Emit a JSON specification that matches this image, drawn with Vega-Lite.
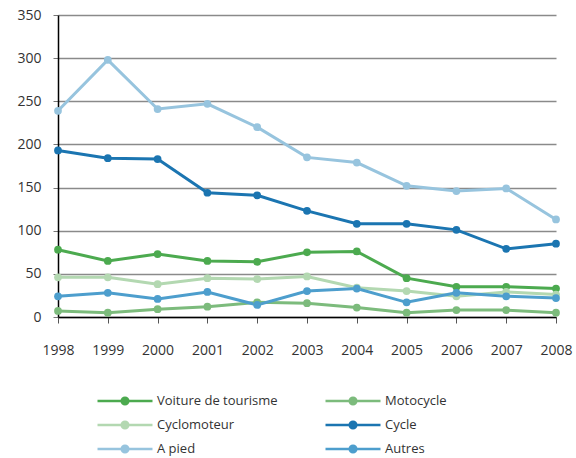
{
  "$schema": "https://vega.github.io/schema/vega-lite/v6.json",
  "autosize": {"type": "none"},
  "width": 498,
  "height": 302,
  "padding": {"left": 58, "top": 15, "right": 20, "bottom": 141},
  "background": "white",
  "config": {
    "font": "Open Sans",
    "view": {"stroke": null},
    "axis": {"labelFont": "Open Sans", "labelColor": "#333333", "labelFontSize": 14, "title": null}
  },
  "data": {
    "values": [
      {"year": "1998", "cat": "Voiture de tourisme", "v": 78},
      {"year": "1999", "cat": "Voiture de tourisme", "v": 65},
      {"year": "2000", "cat": "Voiture de tourisme", "v": 73},
      {"year": "2001", "cat": "Voiture de tourisme", "v": 65},
      {"year": "2002", "cat": "Voiture de tourisme", "v": 64},
      {"year": "2003", "cat": "Voiture de tourisme", "v": 75},
      {"year": "2004", "cat": "Voiture de tourisme", "v": 76},
      {"year": "2005", "cat": "Voiture de tourisme", "v": 45},
      {"year": "2006", "cat": "Voiture de tourisme", "v": 35},
      {"year": "2007", "cat": "Voiture de tourisme", "v": 35},
      {"year": "2008", "cat": "Voiture de tourisme", "v": 33},
      {"year": "1998", "cat": "Motocycle", "v": 7},
      {"year": "1999", "cat": "Motocycle", "v": 5},
      {"year": "2000", "cat": "Motocycle", "v": 9},
      {"year": "2001", "cat": "Motocycle", "v": 12},
      {"year": "2002", "cat": "Motocycle", "v": 17},
      {"year": "2003", "cat": "Motocycle", "v": 16},
      {"year": "2004", "cat": "Motocycle", "v": 11},
      {"year": "2005", "cat": "Motocycle", "v": 5},
      {"year": "2006", "cat": "Motocycle", "v": 8},
      {"year": "2007", "cat": "Motocycle", "v": 8},
      {"year": "2008", "cat": "Motocycle", "v": 5},
      {"year": "1998", "cat": "Cyclomoteur", "v": 46},
      {"year": "1999", "cat": "Cyclomoteur", "v": 46},
      {"year": "2000", "cat": "Cyclomoteur", "v": 38},
      {"year": "2001", "cat": "Cyclomoteur", "v": 45},
      {"year": "2002", "cat": "Cyclomoteur", "v": 44},
      {"year": "2003", "cat": "Cyclomoteur", "v": 47},
      {"year": "2004", "cat": "Cyclomoteur", "v": 34},
      {"year": "2005", "cat": "Cyclomoteur", "v": 30},
      {"year": "2006", "cat": "Cyclomoteur", "v": 24},
      {"year": "2007", "cat": "Cyclomoteur", "v": 29},
      {"year": "2008", "cat": "Cyclomoteur", "v": 26},
      {"year": "1998", "cat": "Cycle", "v": 193},
      {"year": "1999", "cat": "Cycle", "v": 184},
      {"year": "2000", "cat": "Cycle", "v": 183},
      {"year": "2001", "cat": "Cycle", "v": 144},
      {"year": "2002", "cat": "Cycle", "v": 141},
      {"year": "2003", "cat": "Cycle", "v": 123},
      {"year": "2004", "cat": "Cycle", "v": 108},
      {"year": "2005", "cat": "Cycle", "v": 108},
      {"year": "2006", "cat": "Cycle", "v": 101},
      {"year": "2007", "cat": "Cycle", "v": 79},
      {"year": "2008", "cat": "Cycle", "v": 85},
      {"year": "1998", "cat": "A pied", "v": 239},
      {"year": "1999", "cat": "A pied", "v": 298},
      {"year": "2000", "cat": "A pied", "v": 241},
      {"year": "2001", "cat": "A pied", "v": 247},
      {"year": "2002", "cat": "A pied", "v": 220},
      {"year": "2003", "cat": "A pied", "v": 185},
      {"year": "2004", "cat": "A pied", "v": 179},
      {"year": "2005", "cat": "A pied", "v": 152},
      {"year": "2006", "cat": "A pied", "v": 146},
      {"year": "2007", "cat": "A pied", "v": 149},
      {"year": "2008", "cat": "A pied", "v": 113},
      {"year": "1998", "cat": "Autres", "v": 24},
      {"year": "1999", "cat": "Autres", "v": 28},
      {"year": "2000", "cat": "Autres", "v": 21},
      {"year": "2001", "cat": "Autres", "v": 29},
      {"year": "2002", "cat": "Autres", "v": 14},
      {"year": "2003", "cat": "Autres", "v": 30},
      {"year": "2004", "cat": "Autres", "v": 33},
      {"year": "2005", "cat": "Autres", "v": 17},
      {"year": "2006", "cat": "Autres", "v": 28},
      {"year": "2007", "cat": "Autres", "v": 24},
      {"year": "2008", "cat": "Autres", "v": 22}
    ]
  },
  "mark": {"type": "line", "strokeWidth": 3, "point": {"filled": true, "size": 60}},
  "encoding": {
    "x": {
      "field": "year", "type": "ordinal",
      "scale": {"type": "point", "padding": 0},
      "axis": {"labelAngle": 0, "domainColor": "#000000", "domainWidth": 1.5, "tickColor": "#555555", "tickSize": 6, "labelPadding": 20, "grid": false}
    },
    "y": {
      "field": "v", "type": "quantitative",
      "scale": {"domain": [0, 350], "nice": false},
      "axis": {"values": [0, 50, 100, 150, 200, 250, 300, 350], "domainColor": "#000000", "domainWidth": 1.5, "tickColor": "#777777", "tickSize": 5, "labelPadding": 12, "grid": true, "gridColor": "#8a8a8a", "gridWidth": 1.5}
    },
    "color": {
      "field": "cat", "type": "nominal",
      "scale": {
        "domain": ["Voiture de tourisme", "Cyclomoteur", "A pied", "Motocycle", "Cycle", "Autres"],
        "range": ["#4caa4f", "#b3d8b1", "#97c4de", "#7cbb7c", "#1b75b1", "#4d9ecd"]
      },
      "legend": {
        "title": null,
        "orient": "none",
        "legendX": 38,
        "legendY": 377,
        "columns": 2,
        "columnPadding": 46,
        "rowPadding": 6,
        "clipHeight": 18,
        "labelFont": "Open Sans",
        "labelFontSize": 13,
        "labelColor": "#333333",
        "labelOffset": 3,
        "symbolType": "M-1,0H1M-0.12,0A0.12,0.12,0,1,1,0.12,0A0.12,0.12,0,1,1,-0.12,0Z",
        "symbolSize": 3025,
        "symbolStrokeWidth": 2.5,
        "labelLimit": 200,
        "encode": {
          "symbols": {"update": {"fill": {"scale": "color", "field": "value"}, "stroke": {"scale": "color", "field": "value"}, "opacity": {"value": 1}}}
        }
      }
    }
  }
}
